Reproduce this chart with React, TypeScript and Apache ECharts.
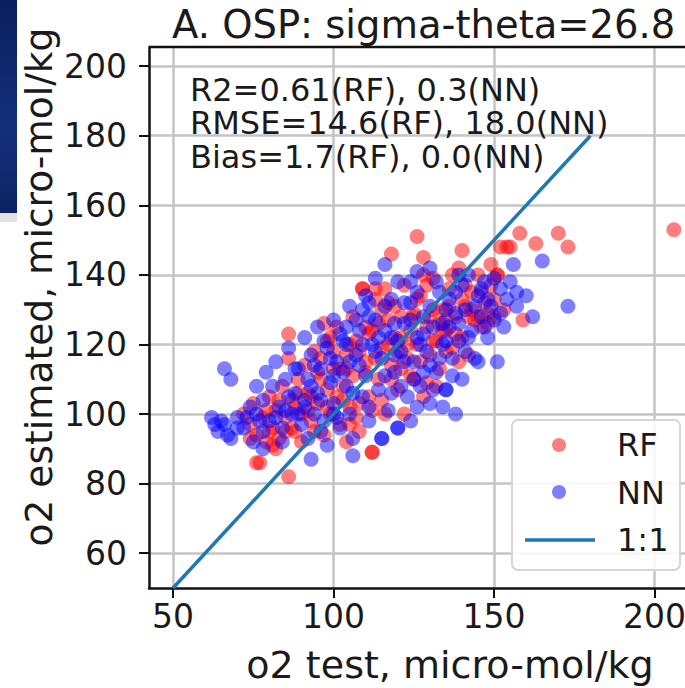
import React, { useEffect, useRef } from "react";
import * as echarts from "echarts";

const xTicks = [50, 100, 150, 200];
const yTicks = [60, 80, 100, 120, 140, 160, 180, 200];
const oneToOne = [[50, 50], [180, 180]];
const statsLines = [
  "R2=0.61(RF), 0.3(NN)",
  "RMSE=14.6(RF), 18.0(NN)",
  "Bias=1.7(RF), 0.0(NN)",
];
const titleText = "A. OSP: sigma-theta=26.8";
const xName = "o2 test, micro-mol/kg";
const yName = "o2 estimated, micro-mol/kg";
const legendNames = ["RF", "NN", "1:1"];

const rfPoints = [
  [72,100],[74,97],[75,103],[76,94],[77,86],[78,99],[79,92],[80,105],[81,96],[82,101],
  [83,93],[84,108],[85,99],[86,82],[86,116],[86,123],[87,104],[88,95],[89,110],[90,100],
  [90,92],[91,114],[92,106],[93,98],[94,118],[95,103],[96,110],[97,94],[98,121],[98,107],
  [99,100],[100,113],[101,125],[102,97],[103,108],[104,117],[105,102],[106,128],[106,111],[107,121],
  [108,95],[109,136],[110,115],[111,105],[112,124],[112,89],[113,133],[114,110],[115,119],[116,100],
  [117,127],[118,146],[118,114],[119,131],[120,107],[121,122],[122,137],[123,116],[124,111],[125,128],
  [126,151],[126,120],[127,134],[128,105],[129,125],[130,117],[131,139],[132,121],[133,113],[134,130],
  [135,124],[136,136],[137,119],[138,128],[139,142],[140,147],[140,122],[141,131],[142,117],[143,135],
  [144,127],[145,140],[146,125],[147,132],[148,129],[149,137],[150,128],[151,140],[152,148],[153,130],
  [155,148],[158,152],[159,127],[163,149],[170,152],[173,148],[206,153],[110,112],[115,104],[120,118],
  [125,110],[100,118],[95,112],[105,97],[130,128],[135,118],[142,128],[128,140],[117,120],[108,103],
  [93,105],[88,102],[80,95],[82,90],[104,92],[122,100],[113,116],[131,121],[125,129],[135,127],
  [113,136],[109,136],[76,86],[112,89],[151,140],[154,148],
  [96,116],[99,122],[102,113],[105,120],[108,118],[111,123],[114,126],[117,132],[119,122],[121,113],
  [124,124],[126,133],[129,137],[131,130],[133,126],[136,131],[138,123],[141,137],[143,130],[146,135],
  [148,126],[150,133],[139,115],[132,108],[127,115],[121,128],[115,130],[110,125],[104,113],[98,102],
  [92,101],[87,96],[83,104],[79,101],[74,93],[89,106],[94,95],[101,105],[107,99],[112,101],
  [118,110],[123,120],[129,109],[134,124],[140,133],[145,128],[149,143],[137,140],[128,145],[116,136],
  [103,104],[97,126],[85,95],[81,91]
];

const nnPoints = [
  [62,99],[63,97],[64,95],[65,98],[66,113],[66,97],[67,94],[68,110],[68,93],[70,99],
  [72,96],[74,102],[75,92],[76,108],[78,90],[78,104],[79,112],[80,98],[81,108],[82,115],
  [83,102],[84,96],[85,110],[86,119],[87,100],[88,106],[89,113],[90,97],[91,122],[91,104],
  [92,110],[93,87],[93,117],[94,100],[95,125],[95,106],[96,113],[97,98],[98,119],[98,91],
  [99,109],[100,127],[100,103],[101,115],[102,96],[103,121],[104,108],[105,131],[105,100],[106,93],
  [106,88],[107,117],[108,124],[109,105],[110,134],[110,111],[111,98],[112,120],[113,127],[114,107],
  [115,93],[115,116],[116,143],[116,131],[117,101],[118,122],[119,112],[120,138],[120,96],[121,118],
  [122,126],[123,105],[124,98],[124,132],[125,115],[126,141],[126,122],[127,108],[128,128],[129,118],
  [130,142],[130,103],[131,125],[132,112],[133,135],[134,102],[134,120],[135,107],[135,130],[136,125],
  [137,116],[138,100],[138,135],[139,121],[140,110],[141,130],[142,140],[143,124],[144,116],[145,134],
  [146,128],[147,138],[148,122],[149,131],[151,115],[150,127],[152,136],[154,133],[156,143],[157,135],
  [157,131],[160,134],[162,128],[165,144],[173,131],[84,92],[92,93],[100,100],[108,114],[118,106],
  [122,132],[128,112],[96,104],[103,112],[111,128],[119,126],[127,120],[133,116],[139,126],[104,120],
  [89,100],[77,98],[120,96],[115,93],[145,115],[135,107],
  [94,114],[97,121],[100,111],[102,123],[105,115],[107,127],[109,120],[111,132],[113,118],[116,124],
  [118,133],[120,121],[122,115],[124,127],[126,135],[128,123],[130,131],[132,138],[134,126],[136,133],
  [138,129],[140,137],[142,122],[144,131],[146,136],[148,133],[150,139],[152,129],[137,111],[131,107],
  [126,102],[121,108],[116,111],[111,102],[106,106],[101,99],[96,95],[91,102],[86,105],[82,99],
  [78,95],[73,99],[88,113],[93,108],[99,116],[104,125],[109,130],[114,122],[119,117],[125,110],
  [130,114],[135,121],[141,118],[147,125],[153,125],[155,138],[139,140],[124,138],[113,139],[85,101],
  [76,100],[70,96]
];

const FONT = "DejaVu Sans";

export default function App() {
  const ref = useRef<HTMLDivElement>(null);
  useEffect(() => {
    if (!ref.current) return;
    const chart = echarts.init(ref.current, null, { renderer: "svg" });
    const gridL = 149, gridT = 47, gridW = 548, gridH = 541;
    const axisCommon = {
      axisLine: { show: true, lineStyle: { color: "#111", width: 2.5 } },
      axisTick: { show: true, inside: false, length: 10, lineStyle: { color: "#111", width: 2 } },
      splitLine: { show: true, lineStyle: { color: "#c4c4c4", width: 2.5 } },
      axisLabel: { color: "#1a1a1a", fontFamily: FONT, fontSize: 33 },
    };
    chart.setOption({
      animation: false,
      backgroundColor: "#fff",
      grid: { left: gridL, top: gridT, width: gridW, height: gridH, containLabel: false },
      xAxis: {
        type: "value",
        min: 42.5,
        max: 213.2,
        ...axisCommon,
        axisTick: { ...axisCommon.axisTick, customValues: xTicks },
        axisLabel: { ...axisCommon.axisLabel, margin: 12, customValues: xTicks },
      },
      yAxis: {
        type: "value",
        min: 50,
        max: 205.5,
        ...axisCommon,
        axisTick: { ...axisCommon.axisTick, customValues: yTicks },
        axisLabel: { ...axisCommon.axisLabel, margin: 22, customValues: yTicks },
      },
      series: [
        {
          name: "RF",
          type: "scatter",
          data: rfPoints,
          symbolSize: 15,
          itemStyle: { color: "#ff0000", opacity: 0.5 },
          z: 2,
        },
        {
          name: "NN",
          type: "scatter",
          data: nnPoints,
          symbolSize: 15,
          itemStyle: { color: "#0000ff", opacity: 0.5 },
          z: 3,
        },
        {
          name: "1:1",
          type: "line",
          data: oneToOne,
          showSymbol: false,
          lineStyle: { color: "#1f77b4", width: 3.5 },
          z: 4,
        },
      ],
      graphic: [
        { type: "line", shape: { x1: gridL, y1: gridT, x2: gridL + gridW, y2: gridT }, style: { stroke: "#111", lineWidth: 2.5 }, z: 10 },
        { type: "line", shape: { x1: gridL + gridW, y1: gridT, x2: gridL + gridW, y2: gridT + gridH }, style: { stroke: "#111", lineWidth: 2.5 }, z: 10 },
        { type: "text", x: 172, y: 24, style: { text: titleText, font: `38.5px '${FONT}'`, fill: "#1a1a1a", align: "left", verticalAlign: "middle" }, z: 10 },
        { type: "text", x: 450, y: 665, style: { text: xName, font: `38px '${FONT}'`, fill: "#1a1a1a", align: "center", verticalAlign: "middle" }, z: 10 },
        { type: "text", x: 39, y: 287, rotation: Math.PI / 2, style: { text: yName, font: `37.5px '${FONT}'`, fill: "#1a1a1a", align: "center", verticalAlign: "middle" }, z: 10 },
        {
          type: "text", x: 190, y: 73,
          style: { text: statsLines.join("\n"), font: `32px '${FONT}'`, lineHeight: 33.5, fill: "#1a1a1a", align: "left", verticalAlign: "top" }, z: 10,
        },
        { type: "rect", shape: { x: 512, y: 420, width: 168, height: 150, r: 6 }, style: { fill: "rgba(255,255,255,0.85)", stroke: "#d6d6d6", lineWidth: 2 }, z: 11 },
        { type: "circle", shape: { cx: 559, cy: 445, r: 7 }, style: { fill: "rgba(255,0,0,0.5)" }, z: 12 },
        { type: "circle", shape: { cx: 559, cy: 492, r: 7 }, style: { fill: "rgba(0,0,255,0.5)" }, z: 12 },
        { type: "line", shape: { x1: 525, y1: 540, x2: 595, y2: 540 }, style: { stroke: "#1f77b4", lineWidth: 3.5 }, z: 12 },
        ...legendNames.map((t, i) => ({
          type: "text", x: 617, y: 445 + i * 47.5,
          style: { text: t, font: `32px '${FONT}'`, fill: "#1a1a1a", align: "left", verticalAlign: "middle" }, z: 12,
        })),
        {
          type: "rect", shape: { x: 0, y: 0, width: 17, height: 213 },
          style: {
            fill: new echarts.graphic.LinearGradient(0, 0, 0, 1, [
              { offset: 0, color: "#0b1f5e" },
              { offset: 0.6, color: "#13307a" },
              { offset: 1, color: "#0c2463" },
            ]),
          }, z: 20,
        },
        { type: "rect", shape: { x: 0, y: 213, width: 17, height: 9 }, style: { fill: "#e2e2e2" }, z: 20 },
      ],
    });
    return () => chart.dispose();
  }, []);
  return (
    <div style={{ position: "fixed", left: 0, top: 0, width: 685, height: 688, overflow: "hidden", background: "#fff" }}>
      <div ref={ref} style={{ width: 760, height: 688 }} />
    </div>
  );
}
